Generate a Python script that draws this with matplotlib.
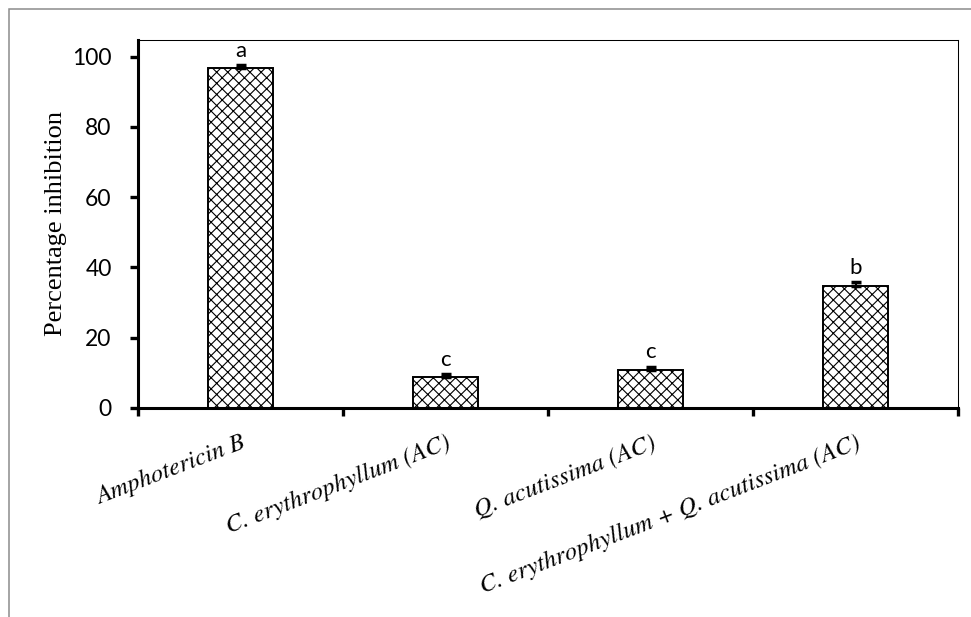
import matplotlib
matplotlib.use("Agg")
import matplotlib.pyplot as plt
from matplotlib.patches import Rectangle

# inhibition data (mean and upper error)
categories = [
    "Amphotericin B",
    "C. erythrophyllum (AC)",
    "Q. acutissima (AC)",
    "C. erythrophyllum + Q. acutissima (AC)",
]
inhibition = [96.6, 8.8, 10.8, 34.8]
errors = [1.0, 0.9, 1.0, 1.0]
groups = ["a", "c", "c", "b"]

DPI = 100
plt.rcParams["hatch.linewidth"] = 0.8

fig = plt.figure(figsize=(971 / DPI, 617 / DPI), dpi=DPI)
ax = fig.add_axes([138 / 971, 1 - 408 / 617, 820 / 971, 368 / 617])

# gray frame around the whole chart
fig.patches.append(Rectangle((9 / 971, -0.1), 1.2, 1 - 9 / 617 + 0.1,
                             transform=fig.transFigure, fill=False,
                             edgecolor="#8c8c8c", linewidth=1.1))

x = range(len(categories))
ax.bar(x, inhibition, width=0.32, color="white", edgecolor="black",
       hatch="xxx", linewidth=1.4, zorder=2)
ax.errorbar(x, inhibition, yerr=[[0] * len(errors), errors], fmt="none",
            ecolor="black", elinewidth=1.5, capsize=3.5, capthick=2.5, zorder=3)

for xi, v, e, g in zip(x, inhibition, errors, groups):
    ax.annotate(g, (xi, v + e), xytext=(0, 3), textcoords="offset points",
                ha="center", va="bottom", fontsize=16, family="Lato")

ax.set_xlim(-0.5, 3.5)
ax.set_ylim(0, 104.7)
ax.set_yticks([0, 20, 40, 60, 80, 100])
ax.set_xticks([-0.5, 0.5, 1.5, 2.5, 3.5])
ax.set_xticklabels([])
ax.set_xticks(list(x), minor=True)
ax.set_xticklabels(categories, minor=True, rotation=21, ha="right",
                   rotation_mode="anchor", family="STIXGeneral",
                   style="italic", fontsize=18)
ax.tick_params(axis="x", which="minor", length=0, pad=17)
ax.tick_params(axis="x", which="major", length=6, width=2.4, direction="out")
ax.tick_params(axis="y", length=6, width=2.4, direction="out", pad=13,
               labelsize=16.5)
for lbl in ax.get_yticklabels():
    lbl.set_family("Lato")

ax.set_ylabel("Percentage inhibition", family="Liberation Serif",
              fontsize=19, labelpad=4)

for side in ("left", "bottom"):
    ax.spines[side].set_linewidth(2.2)
for side in ("top", "right"):
    ax.spines[side].set_linewidth(0.75)

fig.savefig("out.png", dpi=DPI)
